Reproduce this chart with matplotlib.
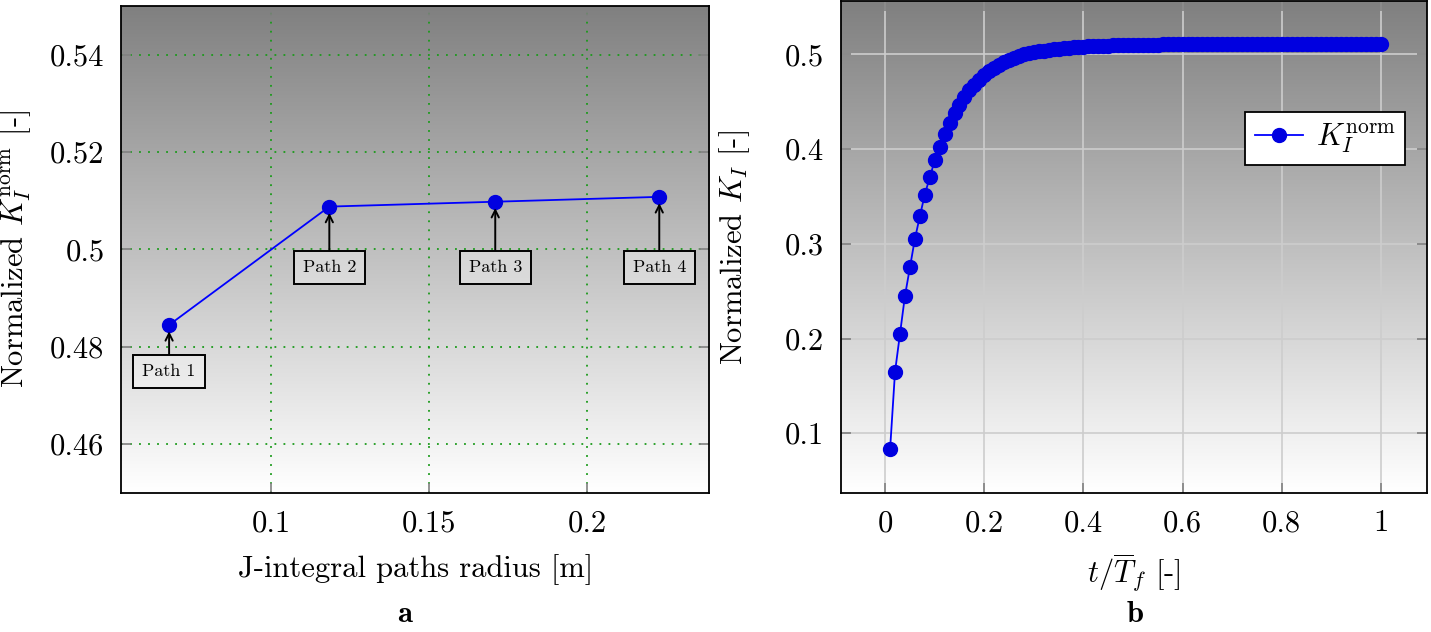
import matplotlib
matplotlib.use("Agg")
import matplotlib.pyplot as plt
import numpy as np

plt.rcParams['font.family'] = ['cmr10', 'DejaVu Serif']
plt.rcParams['mathtext.fontset'] = 'cm'
plt.rcParams['axes.formatter.use_mathtext'] = True

# panel a: J-integral path convergence
path_radius = [0.0677, 0.1184, 0.1709, 0.2228]
k_paths = [0.4845, 0.5088, 0.5098, 0.5108]
path_names = ['Path 1', 'Path 2', 'Path 3', 'Path 4']
# label box heights
path_box_y = [0.4749, 0.4963, 0.4963, 0.4963]

# panel b: K_I evolution in time
t_norm = [round(0.01 * i, 2) for i in range(1, 101)]
k_time = [0.083, 0.165, 0.205, 0.245, 0.275, 0.305, 0.329, 0.352, 0.370, 0.388,
          0.402, 0.416, 0.428, 0.438, 0.447, 0.455, 0.462, 0.468, 0.473, 0.478,
          0.482, 0.486, 0.489, 0.492, 0.494, 0.496, 0.498, 0.500, 0.501, 0.502,
          0.503, 0.504, 0.505, 0.506, 0.506, 0.507, 0.507, 0.508, 0.508, 0.508,
          0.509, 0.509, 0.509, 0.509, 0.509, 0.510, 0.510, 0.510, 0.510, 0.510,
          0.510, 0.510, 0.510, 0.510, 0.510, 0.511, 0.511, 0.511, 0.511, 0.511,
          0.511, 0.511, 0.511, 0.511, 0.511, 0.511, 0.511, 0.511, 0.511, 0.511,
          0.511, 0.511, 0.511, 0.511, 0.511, 0.511, 0.511, 0.511, 0.511, 0.511,
          0.511, 0.511, 0.511, 0.511, 0.511, 0.511, 0.511, 0.511, 0.511, 0.511,
          0.511, 0.511, 0.511, 0.511, 0.511, 0.511, 0.511, 0.511, 0.511, 0.511]

fig = plt.figure(figsize=(14.31, 6.32), dpi=100)
ax1 = fig.add_axes([0.0846, 0.22, 0.411, 0.7706])
ax2 = fig.add_axes([0.5877, 0.22, 0.4095, 0.778])

grad = np.linspace(0.5, 1.0, 256).reshape(-1, 1)


def style_axes(ax):
    # gray (top) to white (bottom) background
    ax.imshow(grad, cmap='gray', vmin=0, vmax=1, aspect='auto', extent=[0, 1, 0, 1],
              origin='upper', transform=ax.transAxes, zorder=0, interpolation='bicubic')
    for s in ax.spines.values():
        s.set_linewidth(1.3)
        s.set_zorder(5)
    ax.tick_params(direction='in', length=7, width=1.2, color='#808080',
                   top=True, right=True, labelsize=22, pad=12)


style_axes(ax1)
ax1.set_xlim(0.0525, 0.2386)
ax1.set_ylim(0.45, 0.55)
ax1.set_xticks([0.1, 0.15, 0.2])
ax1.set_xticklabels(['0.1', '0.15', '0.2'])
ax1.set_yticks([0.46, 0.48, 0.5, 0.52, 0.54])
ax1.set_yticklabels(['0.46', '0.48', '0.5', '0.52', '0.54'])
ax1.grid(True, color='#1a9a1a', linestyle=(0, (1, 4)), linewidth=1.3, zorder=1)
ax1.plot(path_radius, k_paths, color='#0000ff', linewidth=1.3, marker='o',
         markersize=10, markerfacecolor='#0000e0', markeredgecolor='#0000e0', zorder=4)
for name, px, py, by in zip(path_names, path_radius, k_paths, path_box_y):
    ax1.annotate(name, xy=(px, py - 0.0013), xytext=(px, by), fontsize=13,
                 ha='center', va='center', zorder=6,
                 bbox=dict(boxstyle='square,pad=0.5', fc=(1, 1, 1, 0.35), ec='black', lw=1.4),
                 arrowprops=dict(arrowstyle='->', color='black', lw=1.4,
                                 shrinkA=0, shrinkB=0))
ax1.set_xlabel('J-integral paths radius [m]', fontsize=22, labelpad=12)
ax1.set_ylabel(r'Normalized $K_I^{\mathrm{norm}}$ [-]', fontsize=22, labelpad=12)
fig.text(0.283, 0.027, 'a', fontsize=22, fontfamily='cmb10', ha='center', va='center')

style_axes(ax2)
ax2.set_xlim(-0.089, 1.093)
ax2.set_ylim(0.037, 0.556)
ax2.set_xticks([0, 0.2, 0.4, 0.6, 0.8, 1])
ax2.set_xticklabels(['0', '0.2', '0.4', '0.6', '0.8', '1'])
ax2.set_yticks([0.1, 0.2, 0.3, 0.4, 0.5])
ax2.set_yticklabels(['0.1', '0.2', '0.3', '0.4', '0.5'])
ax2.grid(True, color='#cdcdcd', linestyle='-', linewidth=1.2, zorder=1)
ax2.plot(t_norm, k_time, color='#0000ff', linewidth=1.3, marker='o', markersize=10,
         markerfacecolor='#0000e0', markeredgecolor='#0000e0', zorder=4,
         label=r'$K_I^{\mathrm{norm}}$')
leg = ax2.legend(loc='upper right', bbox_to_anchor=(0.962, 0.774), fontsize=22,
                 frameon=True, fancybox=False, edgecolor='black', framealpha=1,
                 handlelength=1.6, borderpad=0.3, handletextpad=0.4, borderaxespad=0)
leg.get_frame().set_linewidth(1.3)
leg.set_zorder(7)
ax2.set_xlabel(r'$t/\overline{T}_f$ [-]', fontsize=22, labelpad=10)
ax2.set_ylabel(r'Normalized $K_I$ [-]', fontsize=22, labelpad=24)
fig.text(0.793, 0.027, 'b', fontsize=22, fontfamily='cmb10', ha='center', va='center')

fig.savefig('out.png', dpi=100)
